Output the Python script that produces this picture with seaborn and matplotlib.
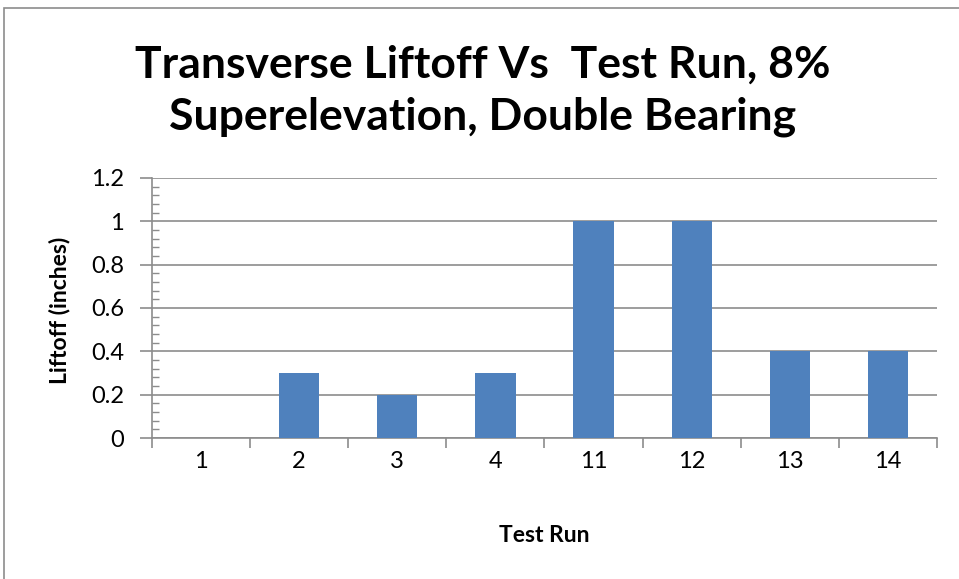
import matplotlib
matplotlib.use("Agg")
import matplotlib.pyplot as plt
import seaborn as sns
import pandas as pd
from matplotlib.ticker import MultipleLocator, FixedLocator
from matplotlib.patches import Rectangle

test_runs = ["1", "2", "3", "4", "11", "12", "13", "14"]
liftoff = [0, 0.3, 0.2, 0.3, 1.0, 1.0, 0.4, 0.4]
y_ticks = [0, 0.2, 0.4, 0.6, 0.8, 1.0, 1.2]
y_tick_labels = ["0", "0.2", "0.4", "0.6", "0.8", "1", "1.2"]

sns.set_theme(style="white")
plt.rcParams["font.family"] = ["Lato", "DejaVu Sans"]
plt.rcParams["text.color"] = "black"
plt.rcParams["axes.labelcolor"] = "black"
plt.rcParams["xtick.color"] = "black"
plt.rcParams["ytick.color"] = "black"

df = pd.DataFrame({"Test Run": test_runs, "Liftoff": liftoff})

fig = plt.figure(figsize=(9.59, 5.79), dpi=100)
ax = fig.add_axes([0.1585, 0.2435, 0.8185, 0.4491])

sns.barplot(data=df, x="Test Run", y="Liftoff", order=test_runs,
            color="#4F81BD", saturation=1, width=0.41, linewidth=0,
            ax=ax, zorder=3)

grid_c = "#8C8C8C"
ax.set_ylim(0, 1.2)
ax.set_xlim(-0.5, len(test_runs) - 0.5)
ax.yaxis.set_major_locator(FixedLocator(y_ticks))
ax.set_yticklabels(y_tick_labels)
ax.yaxis.set_minor_locator(MultipleLocator(0.04))
ax.grid(axis="y", which="major", color=grid_c, linewidth=1.2, zorder=0)
ax.set_axisbelow(True)

for s in ["top", "right"]:
    ax.spines[s].set_visible(False)
for s in ["left", "bottom"]:
    ax.spines[s].set_color(grid_c)
    ax.spines[s].set_linewidth(1.2)

ax.tick_params(axis="y", which="major", direction="out", length=9, width=1.2,
               color=grid_c, labelcolor="black", labelsize=17, pad=11, left=True)
ax.tick_params(axis="y", which="minor", direction="in", length=5, width=1,
               color=grid_c, left=True)
ax.tick_params(axis="x", which="major", length=0, labelsize=17,
               labelcolor="black", pad=9)
# category boundary ticks on the x axis
ax.xaxis.set_minor_locator(FixedLocator([i - 0.5 for i in range(len(test_runs) + 1)]))
ax.tick_params(axis="x", which="minor", direction="out", length=7, width=1.2,
               color=grid_c, bottom=True)

ax.set_xlabel("Test Run", fontsize=16.5, fontweight="bold")
ax.set_ylabel("Liftoff (inches)", fontsize=16.5, fontweight="bold")
ax.xaxis.set_label_coords(0.5, -0.335)
ax.yaxis.set_label_coords(-0.104, 0.49)

fig.text(0.503, 0.764, "Transverse Liftoff Vs  Test Run, 8%\nSuperelevation, Double Bearing",
         ha="center", va="bottom", fontsize=32, fontweight="bold",
         linespacing=1.35, color="black")

fig.patches.append(Rectangle((4 / 959, -0.05), 1.1, 1 - 8 / 579 + 0.05,
                             transform=fig.transFigure, fill=False,
                             edgecolor="#8C8C8C", linewidth=1.2))

fig.savefig("out.png", dpi=100)
